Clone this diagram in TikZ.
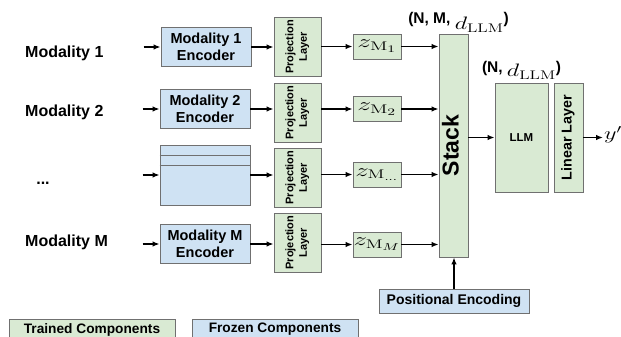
\RequirePackage{fix-cm}
\documentclass[tikz,border=0pt]{standalone}
\usepackage{fontspec}
\setsansfont{Liberation Sans}
\usepackage{xcolor}
\usepackage{tikz}
\usetikzlibrary{arrows.meta,positioning,calc}
\definecolor{trainedgreen}{HTML}{D9EAD3}
\definecolor{frozenblue}{HTML}{CFE2F3}
\definecolor{boxgray}{HTML}{707070}
\DeclareMathSizes{18}{18}{12.5}{10}
\newcommand{\vtext}[1]{\rotatebox{90}{\begin{tabular}{@{}c@{}}#1\end{tabular}}}
\newcommand{\wm}[2][1.35]{\scalebox{#1}[1]{\fontsize{18}{20}\selectfont$#2$}}
\tikzset{
  blk/.style={
    rectangle, draw=boxgray, line width=0.9pt, inner sep=1pt,
    align=center, font=\sffamily\bfseries
  },
  trained/.style={blk, fill=trainedgreen},
  frozen/.style={blk, fill=frozenblue},
  encbox/.style={frozen, minimum width=90pt, minimum height=39pt,
    font=\sffamily\bfseries\fontsize{14.5}{17}\selectfont},
  projbox/.style={trained, minimum width=47pt, minimum height=59pt,
    font=\sffamily\bfseries\fontsize{11}{13.5}\selectfont},
  zbox/.style={trained, minimum width=48pt, minimum height=25pt, inner sep=0pt},
  legbox/.style={minimum width=166pt, minimum height=21pt,
    font=\sffamily\bfseries\fontsize{13.7}{15}\selectfont},
  modlabel/.style={font=\sffamily\bfseries\fontsize{16}{18}\selectfont, inner sep=0pt},
  dimlabel/.style={font=\sffamily\bfseries\fontsize{15.5}{17}\selectfont, inner sep=0pt},
  arr/.style={-{Latex[length=7pt,width=5.5pt]}, line width=1.3pt, draw=black},
}
\begin{document}
\begin{tikzpicture}[x=1pt, y=-1pt]
  \useasboundingbox (0,0) rectangle (621,337);
  % inputs
  \node (mod1) [modlabel, anchor=west] at (25,53) {Modality 1};
  \node (mod2) [modlabel, anchor=west] at (25,112) {Modality 2};
  \node (modd) [modlabel] at (43,183) {...};
  \node (modM) [modlabel, anchor=west] at (25,242) {Modality M};
  % encoders
  \node (enc1) [encbox] at (206,47) {Modality 1\\Encoder};
  \node (enc2) [encbox] at (205,109) {Modality 2\\Encoder};
  \node (enc3) [frozen, minimum width=90pt, minimum height=60pt] at (205,175) {};
  \node (encM) [encbox] at (205,244) {Modality M\\Encoder};
  \draw[blk] ([yshift=-11pt]enc3.north west) -- ([yshift=-11pt]enc3.north east);
  \draw[blk] ([yshift=-21pt]enc3.north west) -- ([yshift=-21pt]enc3.north east);
  \coordinate [left=17pt of enc1] (in1);
  \coordinate [left=17pt of enc2] (in2);
  \coordinate [left=17pt of enc3] (in3);
  \coordinate [left=17pt of encM] (inM);
  % projection layers
  \node (proj1) [projbox] at (297.5,47) {\vtext{Projection\\Layer}};
  \node (proj2) [projbox] at (297.5,112.5) {\vtext{Projection\\Layer}};
  \node (proj3) [projbox] at (297.5,177.5) {\vtext{Projection\\Layer}};
  \node (projM) [projbox] at (297.5,242.5) {\vtext{Projection\\Layer}};
  % embeddings
  \node (z1) [zbox] at (377,46.5) {\wm[1.55]{z_{\mathrm{M}_1}}};
  \node (z2) [zbox] at (377,109) {\wm[1.55]{z_{\mathrm{M}_2}}};
  \node (z3) [zbox] at (377,174.5) {\wm[1.5]{z_{\mathrm{M}_{\dots}}}};
  \node (zM) [zbox] at (377,244.5) {\wm[1.5]{z_{\mathrm{M}_M}}};
  % stack, llm, head
  \node (stack) [trained, minimum width=29pt, minimum height=223pt,
    font=\sffamily\bfseries\fontsize{23}{25}\selectfont] at (453.5,145.5) {\vtext{Stack}};
  \node (llm) [trained, minimum width=53pt, minimum height=109pt,
    font=\sffamily\bfseries\fontsize{11.5}{13}\selectfont] at (521.5,137.5) {LLM};
  \node (linear) [trained, minimum width=29pt, minimum height=109pt,
    font=\sffamily\bfseries\fontsize{14.3}{16}\selectfont] at (568.5,137.5) {\vtext{Linear Layer}};
  \node (yout) [inner sep=1pt, anchor=west] at (603,135) {\wm{y'}};
  \node (pos) [frozen, minimum width=150pt, minimum height=24pt,
    font=\sffamily\bfseries\fontsize{14}{16}\selectfont] at (454,301) {Positional Encoding};
  \node (dimstack) [dimlabel, above=1pt of stack, xshift=5pt] {(N, M, \raisebox{-6pt}{\wm{d_{\mathrm{LLM}}}})};
  \node (dimllm) [dimlabel, above=3pt of llm] {(N, \raisebox{-4pt}{\wm{d_{\mathrm{LLM}}}})};
  % legend
  \node (legtr) [trained, legbox] at (92,329.5) {Trained Components};
  \node (legfr) [frozen, legbox] at (275,329.5) {Frozen Components};
  % connectors
  \draw[arr] (in1) -- (enc1); \draw[arr] (in2) -- (enc2);
  \draw[arr] (in3) -- (enc3); \draw[arr] (inM) -- (encM);
  \draw[arr] (enc1) -- (enc1 -| proj1.west); \draw[arr] (enc2) -- (enc2 -| proj2.west);
  \draw[arr] (enc3) -- (enc3 -| proj3.west); \draw[arr] (encM) -- (encM -| projM.west);
  \draw[arr] (proj1.east |- z1) -- (z1); \draw[arr] (proj2.east |- z2) -- (z2);
  \draw[arr] (proj3.east |- z3) -- (z3); \draw[arr] (projM.east |- zM) -- (zM);
  \draw[arr] (z1) -- (z1 -| stack.west); \draw[arr] (z2) -- (z2 -| stack.west);
  \draw[arr] (z3) -- (z3 -| stack.west); \draw[arr] (zM) -- (zM -| stack.west);
  \draw[arr] (stack.east |- llm) -- (llm);
  \draw[arr] (linear) -- (linear -| yout.west);
  \draw[arr] (pos.north) -- (pos.north |- stack.south);
\end{tikzpicture}
\end{document}
